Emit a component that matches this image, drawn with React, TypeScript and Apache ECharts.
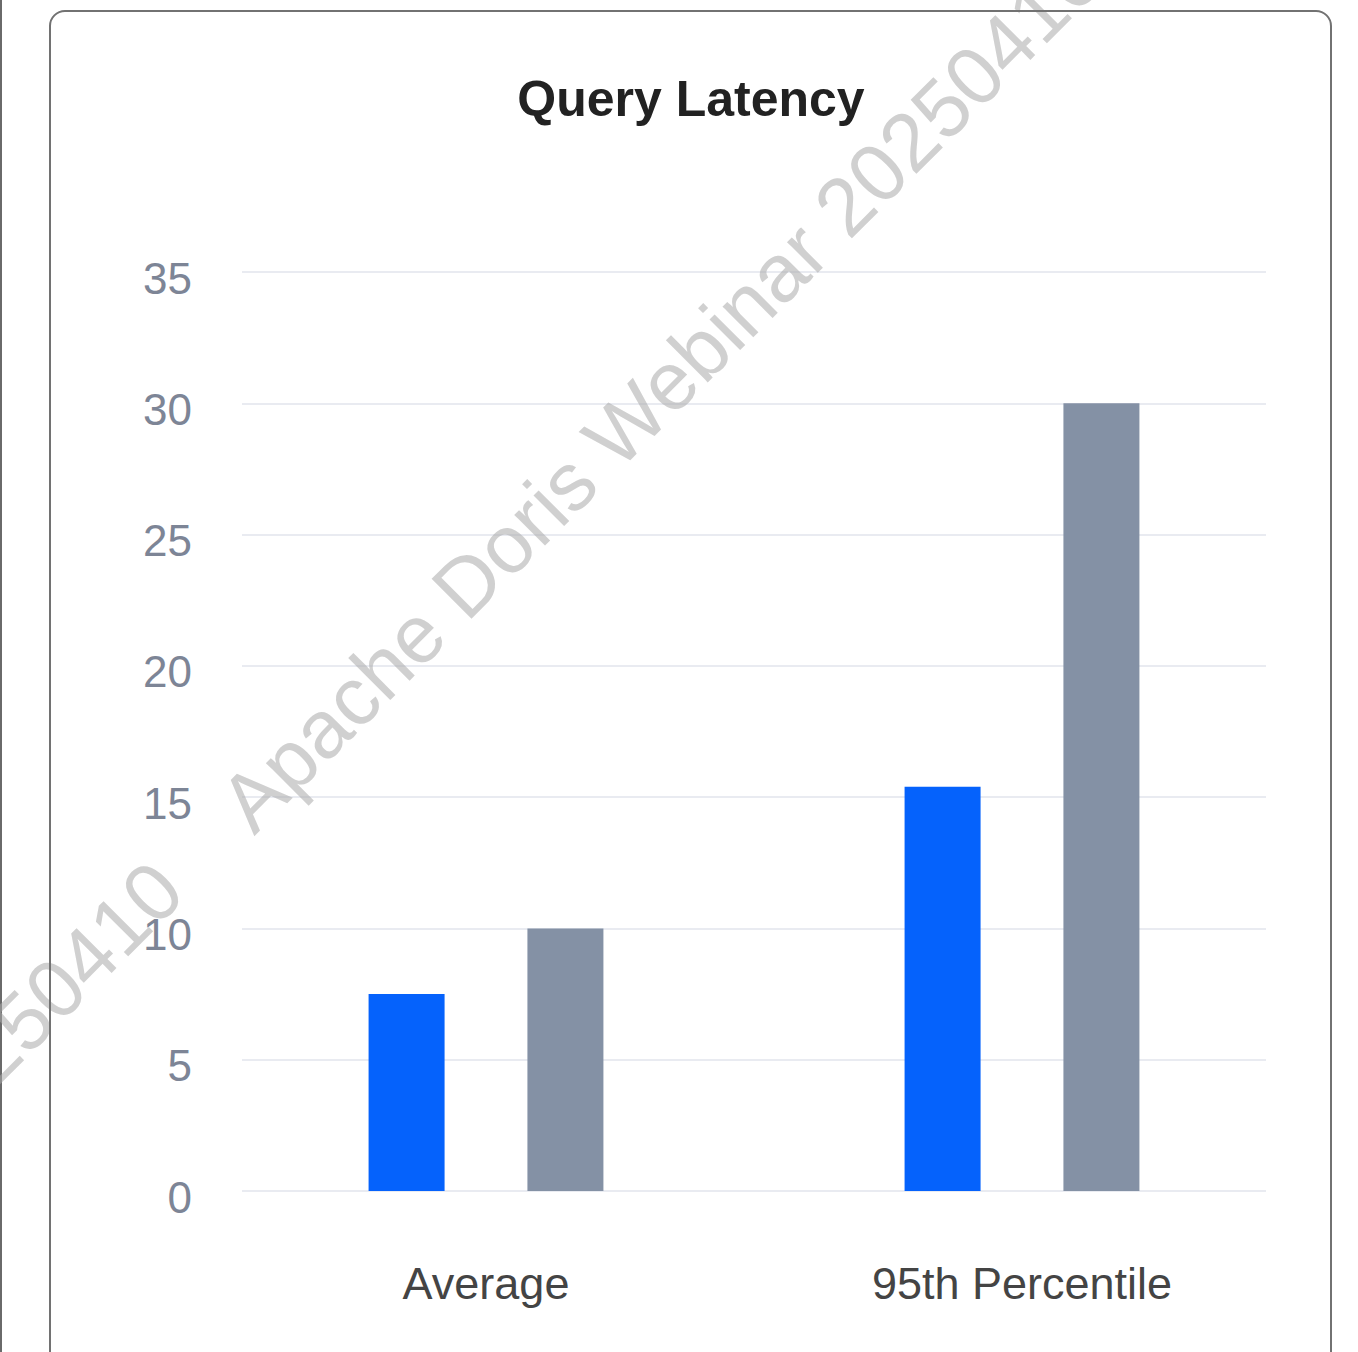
import React, { useEffect, useRef } from "react";
import * as echarts from "echarts";

const categories = ["Average", "95th Percentile"];
const seriesNames = ["Series A", "Series B"];
const seriesA = [7.5, 15.4];
const seriesB = [10, 30];
const yTicks = { min: 0, max: 35, interval: 5 };
const titleText = "Query Latency";
const watermark = "Apache Doris Webinar 20250410";

export default function App() {
  const ref = useRef<HTMLDivElement>(null);
  useEffect(() => {
    if (!ref.current) return;
    const chart = echarts.init(ref.current, undefined, { renderer: "svg" });
    const font = "'Liberation Sans', Arial, Helvetica, sans-serif";
    chart.setOption({
      animation: false,
      textStyle: { fontFamily: font },
      title: {
        text: titleText,
        left: 686,
        textAlign: "center",
        top: 69,
        textStyle: { fontSize: 50, fontWeight: "bold", color: "#222222", fontFamily: font },
      },
      grid: [
        { left: 242, right: 92, top: 272, bottom: 161 },
        { left: 218, right: 68, top: 272, bottom: 161 },
      ],
      xAxis: [
        { type: "category", gridIndex: 0, data: categories, show: false },
        {
          type: "category",
          gridIndex: 1,
          data: categories,
          axisLine: { show: false },
          axisTick: { show: false },
          axisLabel: { fontSize: 45, color: "#444444", margin: 70, fontFamily: font },
        },
      ],
      yAxis: [
        {
          type: "value",
          gridIndex: 0,
          min: yTicks.min,
          max: yTicks.max,
          interval: yTicks.interval,
          axisLine: { show: false },
          axisTick: { show: false },
          axisLabel: {
            fontSize: 44,
            color: "#7d8596",
            margin: 50,
            fontFamily: font,
            verticalAlign: "top",
            lineHeight: 12,
          },
          splitLine: { lineStyle: { color: "#e9ebf1", width: 2 } },
        },
        {
          type: "value",
          gridIndex: 1,
          min: yTicks.min,
          max: yTicks.max,
          interval: yTicks.interval,
          show: false,
          splitLine: { show: false },
        },
      ],
      series: [
        {
          name: seriesNames[0],
          type: "bar",
          xAxisIndex: 1,
          yAxisIndex: 1,
          data: seriesA,
          barWidth: 76,
          barGap: "109%",
          itemStyle: { color: "#0562fc" },
        },
        {
          name: seriesNames[1],
          type: "bar",
          xAxisIndex: 1,
          yAxisIndex: 1,
          data: seriesB,
          barWidth: 76,
          barGap: "109%",
          itemStyle: { color: "#8491a5" },
        },
      ],
      graphic: [
        {
          type: "text",
          x: 263,
          y: 845,
          rotation: Math.PI / 4,
          silent: true,
          z: 100,
          style: {
            text: watermark,
            fontSize: 82,
            fontFamily: font,
            fontWeight: "normal",
            fill: "rgba(170,170,170,0.55)",
            textAlign: "left",
            textVerticalAlign: "bottom",
          },
        },
        {
          type: "text",
          x: 197,
          y: 905,
          rotation: Math.PI / 4,
          silent: true,
          z: 100,
          style: {
            text: watermark,
            fontSize: 82,
            fontFamily: font,
            fontWeight: "normal",
            fill: "rgba(170,170,170,0.55)",
            textAlign: "right",
            textVerticalAlign: "bottom",
          },
        },
      ],
    });
    return () => chart.dispose();
  }, []);

  return (
    <div style={{ position: "fixed", left: 0, top: 0, width: 1358, height: 1352, background: "#ffffff", overflow: "hidden" }}>
      <div style={{ position: "absolute", left: 0, top: 0, width: 2, height: 1352, background: "#6a6a6a" }} />
      <div ref={ref} style={{ position: "absolute", left: 0, top: 0, width: 1358, height: 1352 }} />
      <div
        style={{
          position: "absolute",
          left: 49,
          top: 10,
          width: 1283,
          height: 1360,
          border: "2px solid #727272",
          borderRadius: 16,
          boxSizing: "border-box",
          pointerEvents: "none",
        }}
      />
    </div>
  );
}
